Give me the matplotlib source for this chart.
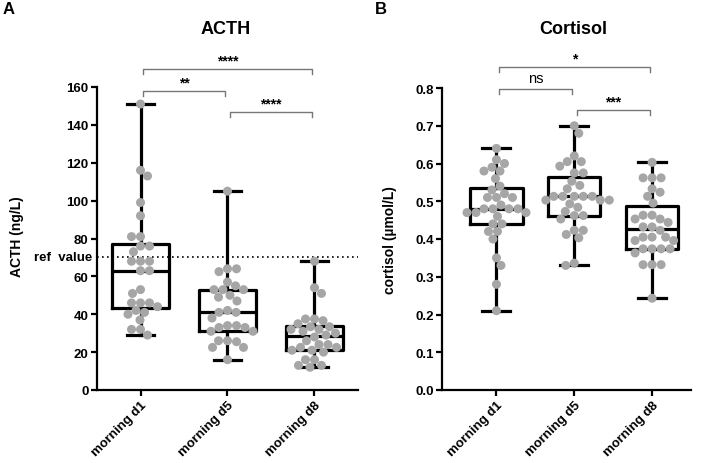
import numpy as np
import matplotlib
matplotlib.use('Agg')
import matplotlib.pyplot as plt
from matplotlib.transforms import blended_transform_factory

plt.rcParams['font.family'] = ['Liberation Sans', 'DejaVu Sans']

categories = ['morning d1', 'morning d5', 'morning d8']

acth_d1 = [151, 116, 113, 99, 92, 81, 81, 76, 76, 73, 68, 68, 68, 63, 63, 53, 51,
           46, 46, 46, 44, 42, 40, 41, 37, 32, 32, 29]
acth_d5 = [105, 64, 64, 62.5, 57, 55, 53, 53, 53, 50, 49, 47, 42, 41, 41, 38, 34, 34,
           33, 33, 31, 31, 26, 26, 25.5, 22.5, 22.5, 16]
acth_d8 = [68, 54, 51, 37.5, 37.5, 36.6, 35, 33.4, 33.4, 32, 32, 31, 30, 29, 28, 26,
           24, 24, 22.5, 22.5, 21, 21, 20, 16, 16, 13, 13, 12]

cort_d1 = [0.64, 0.61, 0.60, 0.59, 0.58, 0.58, 0.56, 0.54, 0.53, 0.52, 0.51, 0.51, 0.51,
           0.49, 0.48, 0.48, 0.48, 0.48, 0.47, 0.47, 0.47, 0.46, 0.44, 0.44, 0.42, 0.42,
           0.40, 0.35, 0.33, 0.28, 0.21]
cort_d5 = [0.70, 0.68, 0.62, 0.605, 0.605, 0.593, 0.575, 0.575, 0.553, 0.542, 0.533,
           0.513, 0.513, 0.513, 0.513, 0.513, 0.503, 0.503, 0.503, 0.493, 0.484, 0.473,
           0.462, 0.462, 0.453, 0.423, 0.423, 0.412, 0.403, 0.336, 0.33]
cort_d8 = [0.603, 0.562, 0.562, 0.562, 0.533, 0.524, 0.513, 0.495, 0.463, 0.463, 0.453,
           0.453, 0.444, 0.432, 0.432, 0.423, 0.405, 0.405, 0.405, 0.396, 0.396, 0.374,
           0.374, 0.374, 0.374, 0.363, 0.332, 0.332, 0.332, 0.243]

acth_ref = 70
acth_ticks = [0, 20, 40, 60, 80, 100, 120, 140, 160]
cort_ticks = [0.0, 0.1, 0.2, 0.3, 0.4, 0.5, 0.6, 0.7, 0.8]

acth_sig = [(0, 2, '****'), (0, 1, '**'), (1, 2, '****')]
cort_sig = [(0, 2, '*'), (0, 1, 'ns'), (1, 2, '***')]

W, H = 706, 464
fig = plt.figure(figsize=(W / 100, H / 100), dpi=100)

axA = fig.add_axes([97 / W, (H - 391) / H, (358 - 97) / W, (391 - 88) / H])
axB = fig.add_axes([442 / W, (H - 391) / H, (691 - 442) / W, (391 - 89) / H])

POINT_COLOR = '#a6a6a6'
DIAM = 9.0  # px


def swarm_x(ax, xc, values, diam=DIAM, sep=0.96):
    trans = ax.transData
    pts = np.array([trans.transform((xc, v)) for v in values])
    x0 = pts[0, 0]
    ys = pts[:, 1]
    order = np.argsort(-ys)
    placed = []
    xs = np.zeros(len(values))
    cands = np.arange(0, 60, 0.5)
    flip = 1
    d2 = (diam * sep) ** 2
    for i in order:
        y = ys[i]
        chosen = None
        for c in cands:
            for s in ((flip, -flip) if c > 0 else (1,)):
                x = x0 + s * c
                ok = True
                for (px, py) in placed:
                    if (px - x) ** 2 + (py - y) ** 2 < d2:
                        ok = False
                        break
                if ok:
                    chosen = x
                    break
            if chosen is not None:
                break
        if chosen != x0:
            flip = -flip
        placed.append((chosen, y))
        xs[i] = chosen
    inv = trans.inverted()
    return np.array([inv.transform((x, 0))[0] for x in xs])


def panel(ax, groups, ylim, yticks, xlim, box_w, cap_w, fmt):
    ax.set_xlim(*xlim)
    ax.set_ylim(*ylim)
    lw = 2.3
    ax.boxplot(groups, positions=range(len(groups)), widths=box_w, whis=(0, 100),
               showfliers=False, capwidths=cap_w, patch_artist=False,
               boxprops=dict(color='black', linewidth=lw),
               medianprops=dict(color='black', linewidth=lw),
               whiskerprops=dict(color='black', linewidth=lw),
               capprops=dict(color='black', linewidth=lw), zorder=2)
    for i, g in enumerate(groups):
        xs = swarm_x(ax, i, g)
        ax.scatter(xs, g, s=(DIAM * 0.72) ** 2, color=POINT_COLOR, edgecolors='none',
                   zorder=3, clip_on=False)
    ax.set_xlim(*xlim)
    ax.set_ylim(*ylim)
    ax.set_yticks(yticks)
    ax.set_yticklabels([fmt(t) for t in yticks], fontsize=9.5, fontweight='bold')
    ax.set_xticks(range(len(groups)))
    ax.set_xticklabels(categories, rotation=45, ha='right', rotation_mode='anchor',
                       fontsize=9.5, fontweight='bold')
    for s in ('top', 'right'):
        ax.spines[s].set_visible(False)
    for s in ('left', 'bottom'):
        ax.spines[s].set_linewidth(1.6)
    ax.tick_params(axis='both', length=4, width=1.6, pad=2)


def brackets(ax, sigs, ys, ylim, axh_px):
    tick = 5 * (ylim[1] - ylim[0]) / axh_px
    for (a, b, txt), y in zip(sigs, ys):
        ax.plot([a + 0.03, a + 0.03, b - 0.03, b - 0.03], [y - tick, y, y, y - tick],
                color='#777777', lw=1.0, clip_on=False)
        if txt == 'ns':
            ax.annotate(txt, xy=((a + b) / 2, y), xytext=(0, 5), textcoords='offset points',
                        ha='center', va='baseline', fontsize=10.5, annotation_clip=False)
        else:
            ax.annotate(txt, xy=((a + b) / 2, y), xytext=(0, 3), textcoords='offset points',
                        ha='center', va='baseline', fontsize=10, fontweight='bold',
                        annotation_clip=False)


panel(axA, [acth_d1, acth_d5, acth_d8], (0, 160), acth_ticks, (-0.5, 2.5), 0.65, 0.32,
      lambda t: f'{t:d}')
panel(axB, [cort_d1, cort_d5, cort_d8], (0, 0.8), cort_ticks, (-0.7, 2.5), 0.67, 0.36,
      lambda t: f'{t:.1f}')

axA.axhline(acth_ref, color='black', lw=1.2, ls=(0, (1, 2)), zorder=1)
tr = blended_transform_factory(axA.transAxes, axA.transData)
axA.text(-0.02, acth_ref, 'ref  value', transform=tr, ha='right', va='center',
         fontsize=9.5, fontweight='bold')

brackets(axA, acth_sig, [(391 - 70) / 1.894, (391 - 92) / 1.894, (391 - 113) / 1.894],
         (0, 160), 303)
brackets(axB, cort_sig, [(390.5 - 70) / 374, (390.5 - 92) / 374, (390.5 - 113) / 374],
         (0, 0.8), 302)

axA.set_ylabel('ACTH (ng/L)', fontsize=10, fontweight='bold')
axA.yaxis.set_label_coords(-0.28, 0.51)
axB.set_ylabel('cortisol (µmol/L)', fontsize=10, fontweight='bold')
axB.yaxis.set_label_coords(-0.18, 0.50)

fig.text(226 / W, 1 - 30 / H, 'ACTH', ha='center', va='center', fontsize=13,
         fontweight='bold')
fig.text(573 / W, 1 - 30 / H, 'Cortisol', ha='center', va='center', fontsize=13,
         fontweight='bold')
fig.text(9 / W, 1 - 10 / H, 'A', ha='center', va='center', fontsize=12, fontweight='bold')
fig.text(381 / W, 1 - 10 / H, 'B', ha='center', va='center', fontsize=12, fontweight='bold')

fig.savefig('out.png', dpi=100)
